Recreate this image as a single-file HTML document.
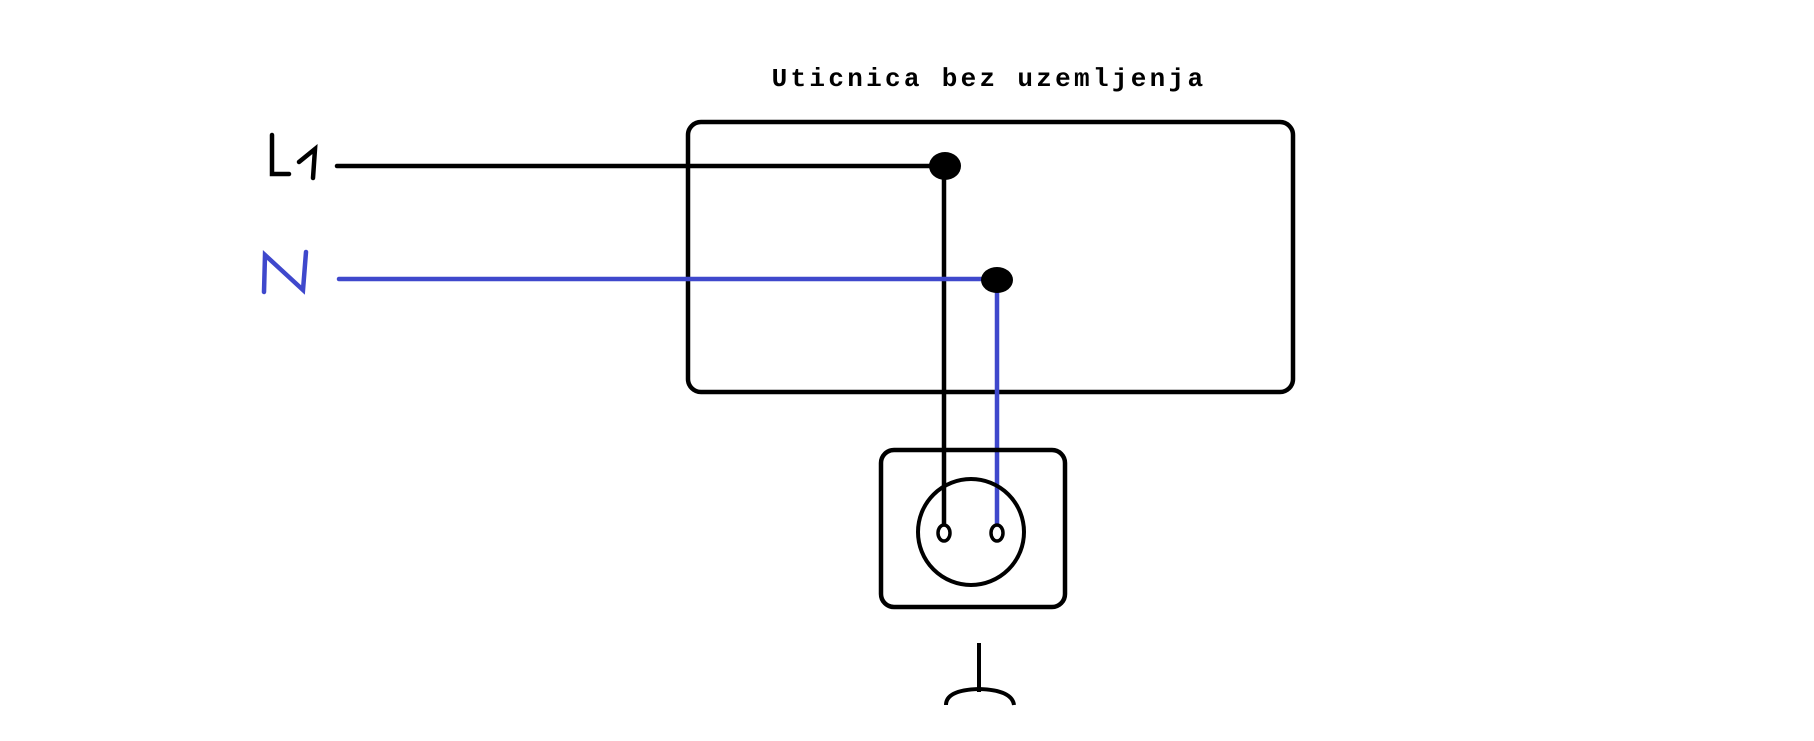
<!DOCTYPE html>
<html><head><style>html,body{margin:0;padding:0;background:#fff}svg{display:block}</style></head>
<body>
<svg width="1814" height="741" viewBox="0 0 1814 741" xmlns="http://www.w3.org/2000/svg">
<rect width="1814" height="741" fill="#fff"/>
<text x="989" y="86" text-anchor="middle" font-family="Liberation Mono, monospace" font-size="26" font-weight="bold" letter-spacing="3.3" fill="#000">Uticnica bez uzemljenja</text>
<rect x="688" y="122" width="605" height="270" rx="13" fill="none" stroke="#000" stroke-width="4.5"/>
<g stroke="#000" stroke-width="4.5" stroke-linecap="round" fill="none">
<path d="M272 135 L272 174 L289 174"/>
<path d="M299 162 L315 149 L313 178"/>
<line x1="337" y1="166" x2="944" y2="166"/>
<line x1="944" y1="166" x2="944" y2="532"/>
</g>
<ellipse cx="945" cy="166" rx="16" ry="14" fill="#000"/>
<g stroke="#3f48cc" stroke-width="4.5" stroke-linecap="round" fill="none">
<path d="M264 292 L265 255 L303 290 L306 252"/>
<line x1="339" y1="279" x2="996" y2="279"/>
<line x1="997" y1="279" x2="997" y2="532"/>
</g>
<ellipse cx="997" cy="280" rx="16" ry="13" fill="#000"/>
<rect x="881" y="450" width="184" height="157" rx="13" fill="none" stroke="#000" stroke-width="4.5"/>
<ellipse cx="971" cy="532" rx="53" ry="53" fill="none" stroke="#000" stroke-width="4"/>
<ellipse cx="944" cy="533" rx="6" ry="8" fill="#fff" stroke="#000" stroke-width="3.5"/>
<ellipse cx="997" cy="533" rx="6" ry="8" fill="#fff" stroke="#000" stroke-width="3.5"/>
<line x1="979" y1="643" x2="979" y2="692" stroke="#000" stroke-width="4"/>
<path d="M946 705 Q946 690 979 689 Q1012 690 1014 705" fill="none" stroke="#000" stroke-width="4"/>
</svg>
</body></html>
